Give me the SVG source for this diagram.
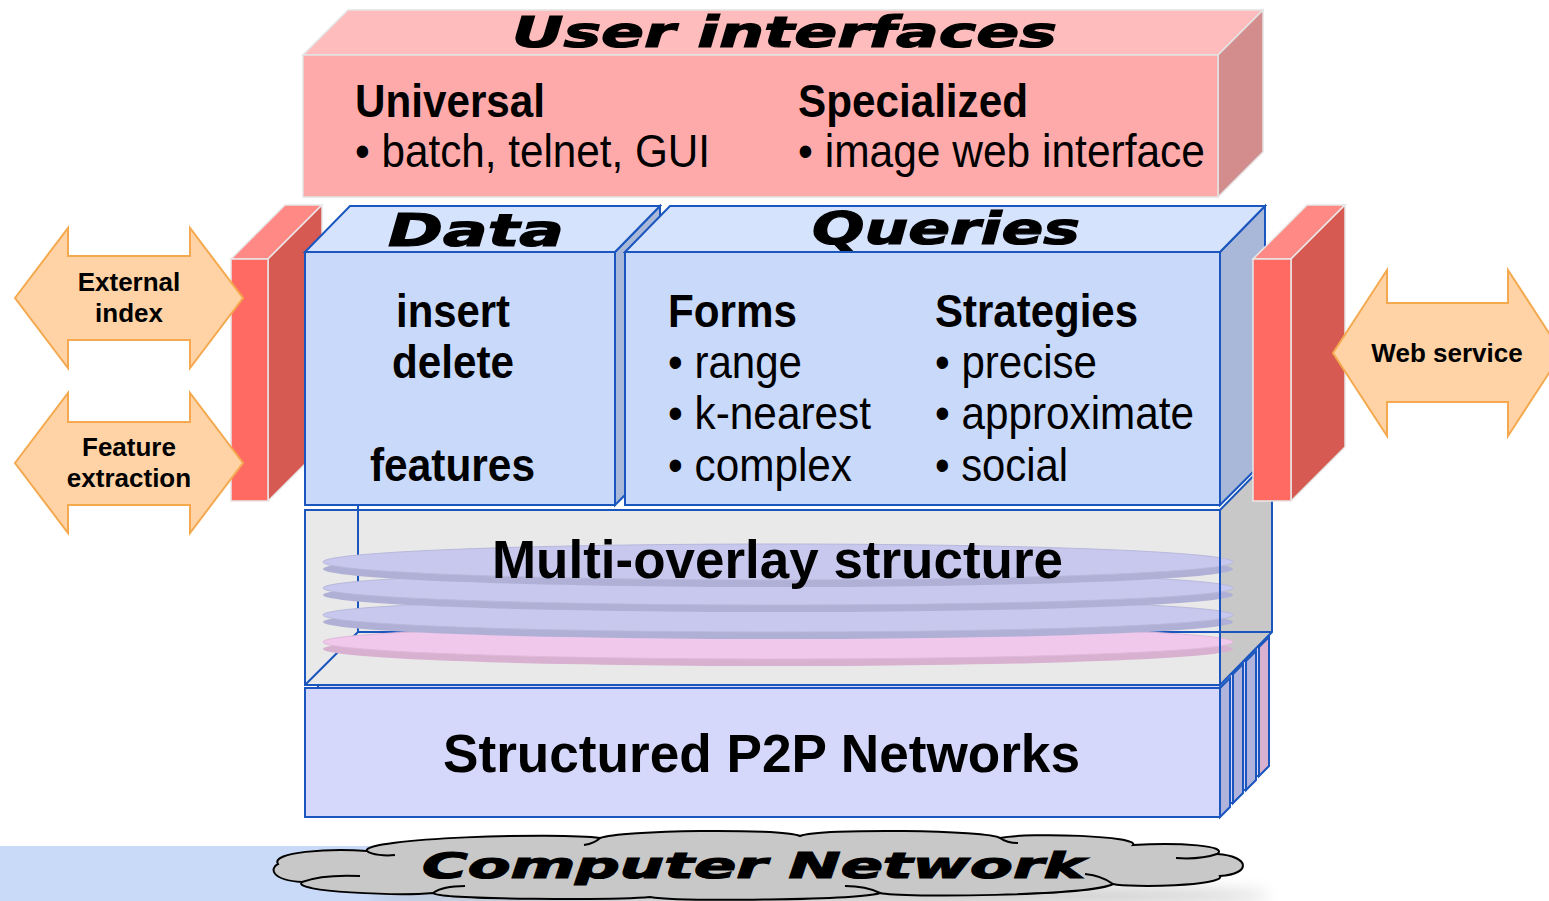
<svg xmlns="http://www.w3.org/2000/svg" width="1549" height="901" viewBox="0 0 1549 901">
<defs>
<style>
.t{font-family:"Liberation Sans",Arial,sans-serif;fill:#000}
.b{font-weight:bold}
.ttl{font-family:"DejaVu Sans","Liberation Sans",sans-serif;font-weight:bold;font-style:italic;fill:#000;stroke:#000;stroke-width:1.2}
.uiF{fill:#FFAAAA;stroke:#E4E4E4;stroke-width:1.5}
.uiT{fill:#FFBCBC;stroke:#E4E4E4;stroke-width:1.5}
.uiS{fill:#D48D8D;stroke:#E4E4E4;stroke-width:1.5}
.rF{fill:#FF6A62;stroke:#E8E8E8;stroke-width:1.5}
.rT{fill:#FF8A85;stroke:#E8E8E8;stroke-width:1.5}
.rS{fill:#D65A52;stroke:#E8E8E8;stroke-width:1.5}
.bF{fill:#C9D9FA;stroke:#1A56BE;stroke-width:2}
.bT{fill:#D6E3FC;stroke:#1A56BE;stroke-width:2}
.bS{fill:#A9B8D8;stroke:#1A56BE;stroke-width:2}
.pF{fill:#D5D8FA;stroke:#1A56BE;stroke-width:2}
.pS{fill:#B0B4DC;stroke:#1A56BE;stroke-width:2}
.pSp{fill:#D8B0D0;stroke:#1A56BE;stroke-width:2}
.arr{fill:#FFD3A5;stroke:#F5A94F;stroke-width:2}
.edge{fill:none;stroke:#1A56BE;stroke-width:2}
.dTop{fill:#C8C8EE;stroke:#B8B8DC;stroke-width:1}
.dBand{fill:#B0B0D6;stroke:none}
.kTop{fill:#F0C8EC;stroke:#E0B8DA;stroke-width:1}
.kBand{fill:#D8B0D0;stroke:none}
</style>
<linearGradient id="band" x1="0" y1="0" x2="1" y2="0">
<stop offset="0" stop-color="#C9DAF8"/>
<stop offset="0.55" stop-color="#C9DAF8"/>
<stop offset="1" stop-color="#C9DAF8" stop-opacity="0"/>
</linearGradient>
<filter id="blur" x="-20%" y="-200%" width="140%" height="500%">
<feGaussianBlur stdDeviation="8"/>
</filter>
</defs>
<rect width="1549" height="901" fill="#fff"/>

<g id="computer-network">
<rect x="0" y="846" width="700" height="55" fill="url(#band)"/>
<ellipse cx="820" cy="896" rx="450" ry="10" fill="#9A9A9A" opacity="0.55" filter="url(#blur)"/>
<path d="M278,864 C270,852 330,848 367,851 C360,838 560,832 600,838 C620,830 780,828 800,836 C820,828 990,830 1000,838 C1030,832 1140,836 1133,845 C1180,842 1230,846 1217,854 C1250,856 1252,874 1220,876 C1225,886 1130,888 1113,884 C1090,896 900,898 880,893 C860,900 680,902 650,897 C620,900 440,900 433,893 C400,896 290,892 302,882 C270,880 270,868 278,864 Z" fill="#C8C8C8" stroke="#000" stroke-width="2"/>
<path d="M367,851 C372,855 385,856 395,855 M302,882 C318,876 340,875 360,876 M600,838 C596,842 590,844 584,845 M1000,838 C1004,841 1010,843 1018,843 M1217,854 C1205,858 1190,859 1176,858 M1113,884 C1105,878 1095,875 1085,874 M880,893 C870,888 858,886 845,886 M433,893 C440,888 452,886 465,886" fill="none" stroke="#000" stroke-width="2"/>
<text class="ttl" x="422" y="878" font-size="36" textLength="663" lengthAdjust="spacingAndGlyphs">Computer Network</text>
</g>

<g id="p2p-networks">
<rect class="pF" x="344" y="647" width="915" height="129"/>
<polygon class="pSp" points="1259,647 1269,637 1269,766 1259,776"/>
<rect class="pF" x="331" y="661" width="915" height="129"/>
<polygon class="pS" points="1246,661 1256,651 1256,780 1246,790"/>
<rect class="pF" x="318" y="674" width="915" height="129"/>
<polygon class="pS" points="1233,674 1243,664 1243,793 1233,803"/>
</g>

<g id="multi-overlay">
<rect x="305" y="510" width="915" height="175" fill="#E9E9E9"/>
<polygon points="1220,510 1272,457 1272,632 1220,685" fill="#C8C8C8" stroke="#1A56BE" stroke-width="2"/>
<path class="edge" d="M358,456 L358,632 L1272,632 M305,685 L358,632"/>
<g id="disk-pink">
<ellipse class="kBand" cx="778" cy="649" rx="455" ry="17"/>
<ellipse class="kTop" cx="778" cy="642" rx="455" ry="17"/>
</g>
<g id="disk-3">
<ellipse class="dBand" cx="778" cy="622" rx="455" ry="17"/>
<ellipse class="dTop" cx="778" cy="615" rx="455" ry="17"/>
</g>
<g id="disk-2">
<ellipse class="dBand" cx="778" cy="595" rx="455" ry="17"/>
<ellipse class="dTop" cx="778" cy="588" rx="455" ry="17"/>
</g>
<g id="disk-1">
<ellipse class="dBand" cx="778" cy="569" rx="455" ry="18"/>
<ellipse class="dTop" cx="778" cy="562" rx="455" ry="18"/>
</g>
<rect class="edge" x="305" y="510" width="915" height="175"/>
<text class="t b" x="492" y="578" font-size="54" textLength="571" lengthAdjust="spacingAndGlyphs">Multi-overlay structure</text>
</g>

<g id="p2p-front">
<rect class="pF" x="305" y="688" width="915" height="129"/>
<polygon class="pS" points="1220,688 1230,678 1230,807 1220,817"/>
<text class="t b" x="443" y="772" font-size="54" textLength="637" lengthAdjust="spacingAndGlyphs">Structured P2P Networks</text>
</g>

<g id="left-bar">
<polygon class="rT" points="231,259 285,205 322,205 268,259"/>
<polygon class="rS" points="268,259 322,205 322,447 268,501"/>
<rect class="rF" x="231" y="259" width="37" height="242"/>
</g>

<g id="data">
<polygon class="bS" points="615,252 660,206 660,460 615,505"/>
<polygon class="bT" points="305,252 350,206 660,206 615,252"/>
<rect class="bF" x="305" y="252" width="310" height="253"/>
<text class="ttl" x="388" y="246" font-size="44" textLength="176" lengthAdjust="spacingAndGlyphs">Data</text>
<text class="t b" x="396" y="327" font-size="46" textLength="114" lengthAdjust="spacingAndGlyphs">insert</text>
<text class="t b" x="392" y="378" font-size="46" textLength="122" lengthAdjust="spacingAndGlyphs">delete</text>
<text class="t b" x="370" y="481" font-size="46" textLength="165" lengthAdjust="spacingAndGlyphs">features</text>
</g>

<g id="queries">
<polygon class="bS" points="1220,252 1265,206 1265,460 1220,505"/>
<polygon class="bT" points="625,252 670,206 1265,206 1220,252"/>
<rect class="bF" x="625" y="252" width="595" height="253"/>
<text class="ttl" x="812" y="244" font-size="44" textLength="268" lengthAdjust="spacingAndGlyphs">Queries</text>
<text class="t b" x="668" y="327" font-size="46" textLength="129" lengthAdjust="spacingAndGlyphs">Forms</text>
<text class="t" x="668" y="378" font-size="46" textLength="134" lengthAdjust="spacingAndGlyphs">• range</text>
<text class="t" x="668" y="429" font-size="46" textLength="203" lengthAdjust="spacingAndGlyphs">• k-nearest</text>
<text class="t" x="668" y="481" font-size="46" textLength="184" lengthAdjust="spacingAndGlyphs">• complex</text>
<text class="t b" x="935" y="327" font-size="46" textLength="203" lengthAdjust="spacingAndGlyphs">Strategies</text>
<text class="t" x="935" y="378" font-size="46" textLength="162" lengthAdjust="spacingAndGlyphs">• precise</text>
<text class="t" x="935" y="429" font-size="46" textLength="259" lengthAdjust="spacingAndGlyphs">• approximate</text>
<text class="t" x="935" y="481" font-size="46" textLength="133" lengthAdjust="spacingAndGlyphs">• social</text>
</g>

<g id="right-bar">
<polygon class="rT" points="1253,259 1307,205 1345,205 1291,259"/>
<polygon class="rS" points="1291,259 1345,205 1345,447 1291,501"/>
<rect class="rF" x="1253" y="259" width="38" height="242"/>
</g>

<g id="user-interfaces">
<polygon class="uiT" points="303,55 348,10 1263,10 1218,55"/>
<polygon class="uiS" points="1218,55 1263,10 1263,152 1218,197"/>
<rect class="uiF" x="303" y="55" width="915" height="142"/>
<text class="ttl" x="512" y="47" font-size="42" textLength="545" lengthAdjust="spacingAndGlyphs">User interfaces</text>
<text class="t b" x="355" y="117" font-size="46" textLength="190" lengthAdjust="spacingAndGlyphs">Universal</text>
<text class="t" x="355" y="167" font-size="46" textLength="355" lengthAdjust="spacingAndGlyphs">• batch, telnet, GUI</text>
<text class="t b" x="798" y="117" font-size="46" textLength="230" lengthAdjust="spacingAndGlyphs">Specialized</text>
<text class="t" x="798" y="167" font-size="46" textLength="407" lengthAdjust="spacingAndGlyphs">• image web interface</text>
</g>

<g id="external-index">
<polygon class="arr" points="15,298 68,228 68,256 190,256 190,228 243,298 190,368 190,340 68,340 68,368"/>
<text class="t b" x="129" y="291" font-size="26" text-anchor="middle">External</text>
<text class="t b" x="129" y="322" font-size="26" text-anchor="middle">index</text>
</g>

<g id="feature-extraction">
<polygon class="arr" points="15,463 68,393 68,422 190,422 190,393 243,463 190,533 190,505 68,505 68,533"/>
<text class="t b" x="129" y="456" font-size="26" text-anchor="middle">Feature</text>
<text class="t b" x="129" y="487" font-size="26" text-anchor="middle">extraction</text>
</g>

<g id="web-service">
<polygon class="arr" points="1333,353 1387,270 1387,303 1508,303 1508,270 1562,353 1508,436 1508,402 1387,402 1387,436"/>
<text class="t b" x="1447" y="362" font-size="26" text-anchor="middle">Web service</text>
</g>

<g id="connectors"></g>
</svg>
